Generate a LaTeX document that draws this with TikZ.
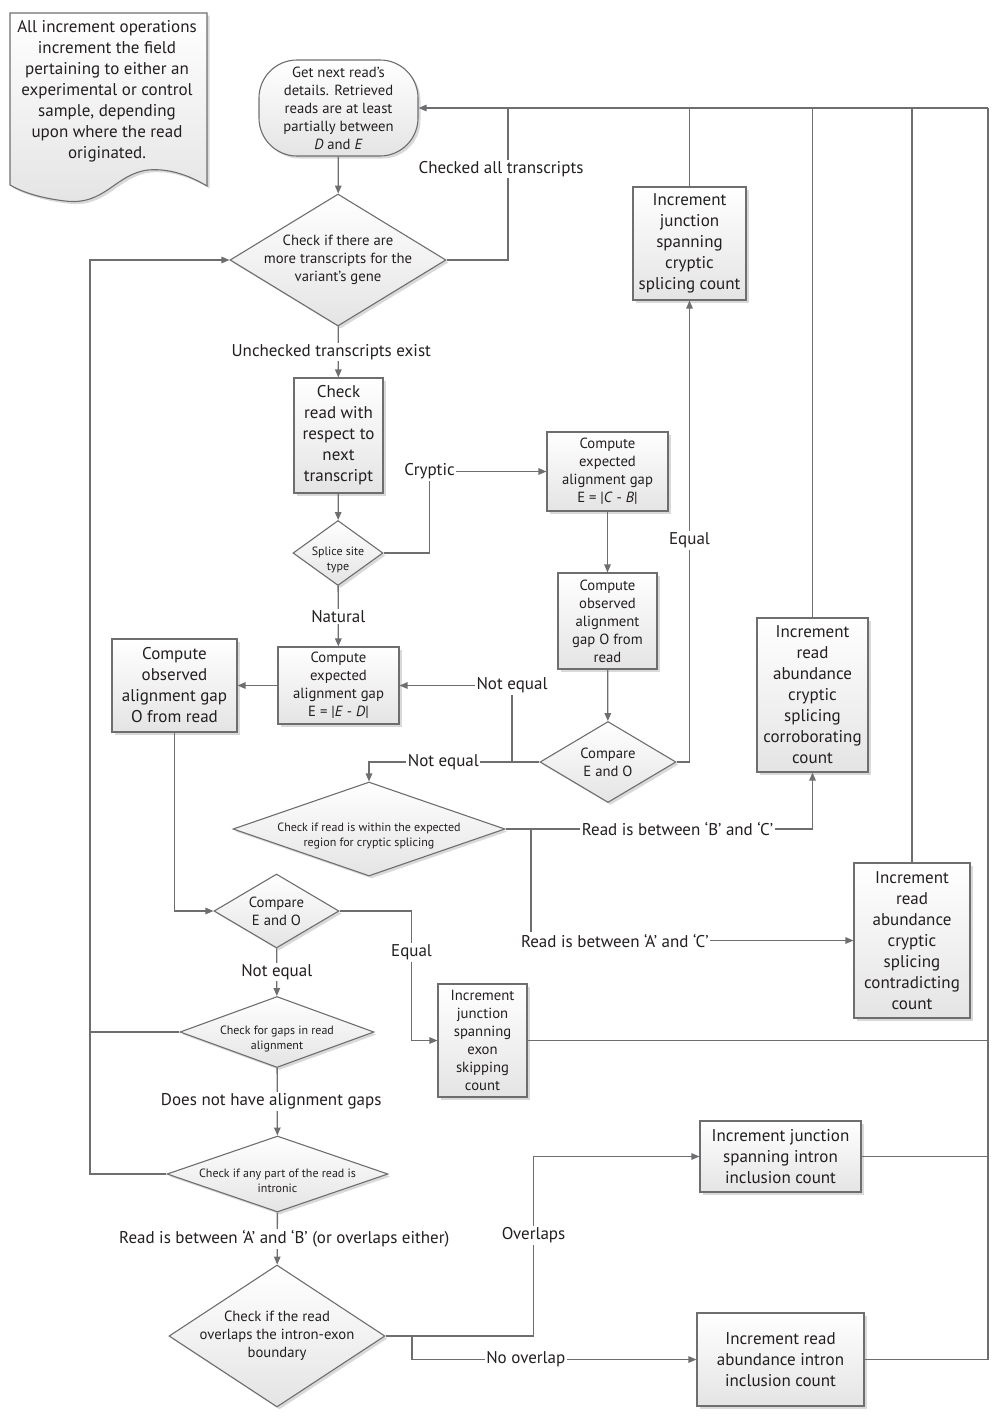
\documentclass[tikz,border=0pt]{standalone}
\usepackage{fontspec}
\setmainfont{PT Sans}
\usetikzlibrary{positioning}
\usetikzlibrary{shapes.geometric, shapes.misc, shadows, arrows.meta}

\definecolor{linegray}{RGB}{110,110,113}
\definecolor{inkgray}{RGB}{35,31,32}
\definecolor{shadegray}{RGB}{228,228,228}

\newcommand\fbig{\fontsize{17}{21}\selectfont}
\newcommand\fmid{\fontsize{14.7}{18}\selectfont}
\newcommand\fsml{\fontsize{12}{15}\selectfont}

\tikzset{
  box/.style={rectangle, draw=linegray, line width=1.1pt, top color=white, bottom color=shadegray,
    drop shadow={shadow xshift=2.5pt, shadow yshift=-2.5pt, opacity=0.3}, align=center, text=inkgray, inner sep=1pt},
  dia/.style={diamond, draw=linegray, line width=1.1pt, top color=white, bottom color=shadegray,
    drop shadow={shadow xshift=2.5pt, shadow yshift=-2.5pt, opacity=0.3}, inner sep=0pt},
  diatext/.style={align=center, text=inkgray, inner sep=0pt},
  lbl/.style={fill=white, inner sep=1.5pt, text=inkgray, font=\fbig},
  wire/.style={draw=linegray, line width=1.3pt},
  conn/.style={wire, -{Triangle[length=8pt,width=6.5pt]}}
}

\begin{document}
\begin{tikzpicture}[x=1pt,y=-1pt]
\useasboundingbox (0,0) rectangle (1000,1424);

% note
\path[draw=linegray, line width=1.1pt, top color=white, bottom color=shadegray,
  drop shadow={shadow xshift=2.5pt, shadow yshift=-2.5pt, opacity=0.3}]
  (10,13) -- (207,13) -- (207,186) .. controls (190,176) and (170,168) .. (148,170)
  .. controls (115,174) and (105,206) .. (65,201) .. controls (40,198) and (22,192) .. (10,185) -- cycle;
\node[diatext, font=\fbig] (note) at (107,91) {All increment operations\\increment the field\\pertaining to either an\\experimental or control\\sample, depending\\upon where the read\\originated.};

% main column
\node[box, rounded corners=38pt, font=\fmid, minimum width=159pt, minimum height=96pt] (start) at (338.5,108)
  {Get next read’s\\details. Retrieved\\reads are at least\\partially between\\\textit{D} and \textit{E}};
\node[dia, minimum width=216pt, minimum height=132pt] (trans) at (338,260) {};
\node[diatext, font=\fmid] at (trans) {Check if there are\\more transcripts for the\\variant’s gene};
\node[box, font=\fbig, minimum width=89pt, minimum height=115pt] (chknext) at (338.5,435.5)
  {Check\\read with\\respect to\\next\\transcript};
\node[dia, minimum width=90pt, minimum height=65pt] (sstype) at (338,553) {};
\node[diatext, font=\fsml, yshift=-7pt] at (sstype) {Splice site\\type};
\node[box, font=\fmid, minimum width=121pt, minimum height=77pt] (expde) at (338.5,685.5)
  {Compute\\expected\\alignment gap\\E = |\textit{E} - \textit{D}|};
\node[box, font=\fbig, minimum width=125pt, minimum height=93pt] (obsde) at (174.5,685.5)
  {Compute\\observed\\alignment gap\\O from read};

% cryptic branch
\node[box, font=\fmid, minimum width=121pt, minimum height=79pt] (expcb) at (607.5,471.5)
  {Compute\\expected\\alignment gap\\E = |\textit{C} - \textit{B}|};
\node[box, font=\fmid, minimum width=99pt, minimum height=96pt] (obscb) at (607.5,621)
  {Compute\\observed\\alignment\\gap O from\\read};
\node[dia, minimum width=136pt, minimum height=81pt] (cmpcb) at (608,762) {};
\node[diatext, font=\fmid] at (cmpcb) {Compare\\E and O};
\node[box, font=\fbig, minimum width=113pt, minimum height=113pt] (juncryp) at (689.5,243.5)
  {Increment\\junction\\spanning\\cryptic\\splicing count};
\node[dia, minimum width=272pt, minimum height=94pt] (region) at (369,829) {};
\node[diatext, font=\fsml, yshift=-7pt] at (region) {Check if read is within the expected\\region for cryptic splicing};
\node[box, font=\fbig, minimum width=111pt, minimum height=154pt] (corrob) at (812.5,695)
  {Increment\\read\\abundance\\cryptic\\splicing\\corroborating\\count};
\node[box, font=\fbig, minimum width=116pt, minimum height=155pt] (contra) at (912,940.5)
  {Increment\\read\\abundance\\cryptic\\splicing\\contradicting\\count};

% natural branch
\node[dia, minimum width=125pt, minimum height=74pt] (cmpde) at (276.5,911) {};
\node[diatext, font=\fmid] at (cmpde) {Compare\\E and O};
\node[box, font=\fmid, minimum width=89pt, minimum height=113pt] (exskip) at (482.5,1040.5)
  {Increment\\junction\\spanning\\exon\\skipping\\count};
\node[dia, minimum width=194pt, minimum height=71pt] (gaps) at (277,1032) {};
\node[diatext, font=\fsml, yshift=-7pt] at (gaps) {Check for gaps in read\\alignment};
\node[dia, minimum width=221pt, minimum height=76pt] (intronic) at (277.5,1174) {};
\node[diatext, font=\fsml, yshift=-7pt] at (intronic) {Check if any part of the read is\\intronic};
\node[dia, minimum width=216pt, minimum height=142pt] (boundary) at (277,1336) {};
\node[diatext, font=\fmid] at (boundary) {Check if the read\\overlaps the intron-exon\\boundary};
\node[box, font=\fbig, minimum width=161pt, minimum height=71pt] (juninc) at (780.5,1156.5)
  {Increment junction\\spanning intron\\inclusion count};
\node[box, font=\fbig, minimum width=167pt, minimum height=93pt] (abinc) at (780.5,1359.5)
  {Increment read\\abundance intron\\inclusion count};

% rails
\coordinate (topright) at (988,108);
\coordinate (leftx) at (90,0);
\coordinate (ne) at (512,762);
\coordinate (ab) at (531,829);
\coordinate (no) at (412,1336);

% connectors
\draw[conn] (start) -- (trans);
\draw[wire] (trans.east) -| node[lbl, pos=0.8, xshift=-7pt] {Checked all transcripts} (start.east -| 508,0);
\draw[conn] (topright) -- (start.east);
\draw[conn] (trans) -- node[lbl, xshift=-7pt] {Unchecked transcripts exist} (chknext);
\draw[conn] (chknext) -- (sstype);
\draw[conn] (sstype.east) -- ++(46,0) |- node[lbl, pos=0.5] {Cryptic} (expcb.west);
\draw[conn] (sstype) -- node[lbl] {Natural} (expde);
\draw[conn] (expcb) -- (obscb);
\draw[conn] (obscb) -- (cmpcb);
\draw[conn] (cmpcb.east) -| node[lbl, pos=0.74] {Equal} (juncryp.south);
\draw[conn] (cmpcb.west) -- (ne) |- node[lbl, pos=0.5] {Not equal} (expde.east);
\draw[conn] (ne) -| node[lbl, pos=0.24] {Not equal} (region.north);
\draw[conn] (expde) -- (obsde);
\draw[conn] (obsde.south) |- (cmpde.west);
\draw[conn] (region.east) -| node[lbl, pos=0.28] {Read is between ‘B’ and ‘C’} (corrob.south);
\draw[conn] (ab) |- node[lbl, pos=0.63] {Read is between ‘A’ and ‘C’} (contra.west);
\draw[conn] (cmpde.east) -- ++(72,0) |- node[lbl, pos=0.16] {Equal} (exskip.west);
\draw[conn] (cmpde) -- node[lbl] {Not equal} (gaps);
\draw[conn] (gaps) -- node[lbl, xshift=-6pt] {Does not have alignment gaps} (intronic);
\draw[conn] (intronic) -- node[lbl, xshift=7pt] {Read is between ‘A’ and ‘B’ (or overlaps either)} (boundary);
\draw[conn] (boundary.east) -- ++(148,0) |- node[lbl, pos=0.28] {Overlaps} (juninc.west);
\draw[conn] (no) |- node[lbl, pos=0.7] {No overlap} (abinc.west);

% back to the start
\draw[wire] (juncryp.north) -- (juncryp.north |- topright);
\draw[wire] (corrob.north) -- (corrob.north |- topright);
\draw[wire] (contra.north) -- (contra.north |- topright);
\draw[wire] (exskip.east) -- (exskip.east -| topright);
\draw[wire] (juninc.east) -- (juninc.east -| topright);
\draw[wire] (abinc.east) -| (topright);
\draw[conn] (intronic.west) -- (intronic.west -| leftx) |- (trans.west);
\draw[wire] (gaps.west) -- (gaps.west -| leftx);

\end{tikzpicture}
\end{document}
